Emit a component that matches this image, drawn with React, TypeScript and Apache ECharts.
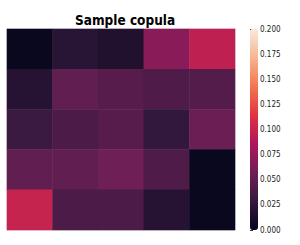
import React, { useEffect, useRef } from "react";
import * as echarts from "echarts";

const title = "Sample copula";
const columns = ["0", "1", "2", "3", "4"];
const rows = ["0", "1", "2", "3", "4"];
const row0 = [0.004, 0.021, 0.017, 0.069, 0.095];
const row1 = [0.020, 0.050, 0.045, 0.041, 0.043];
const row2 = [0.031, 0.040, 0.045, 0.027, 0.054];
const row3 = [0.050, 0.050, 0.056, 0.041, 0.004];
const row4 = [0.099, 0.040, 0.040, 0.020, 0.004];
const matrix = [row0, row1, row2, row3, row4];
const colorMin = 0;
const colorMax = 0.2;
const colorTickStep = 0.025;
const rocket = ["#03051a", "#35193e", "#701f57", "#ad1759", "#e13342", "#f37651", "#f6b48f", "#faebdd"];

export default function App() {
  const ref = useRef<HTMLDivElement>(null);
  useEffect(() => {
    if (!ref.current) return;
    const chart = echarts.init(ref.current, null, { renderer: "svg" });
    const data: [number, number, number][] = [];
    matrix.forEach((r, ri) => r.forEach((v, ci) => data.push([ci, ri, v])));
    const font = "'DejaVu Sans Condensed', 'DejaVu Sans', sans-serif";
    chart.setOption({
      animation: false,
      backgroundColor: "#ffffff",
      title: {
        text: title,
        left: 70,
        top: 8,
        textStyle: { fontFamily: font, fontWeight: "bold", fontSize: 13.5, color: "#000" },
      },
      grid: [
        { left: 7, top: 29, width: 228, height: 201, show: true, borderColor: "#d8d0d8", borderWidth: 1, backgroundColor: "transparent" },
        { left: 250, top: 29, width: 8, height: 201 },
      ],
      xAxis: [
        { type: "category", gridIndex: 0, data: columns, show: false },
        { type: "value", gridIndex: 1, show: false, min: 0, max: 1 },
      ],
      yAxis: [
        { type: "category", gridIndex: 0, data: rows, inverse: true, show: false },
        {
          type: "value",
          gridIndex: 1,
          position: "right",
          min: colorMin,
          max: colorMax,
          interval: colorTickStep,
          axisLine: { show: false },
          splitLine: { show: false },
          axisTick: { show: true, length: 3, lineStyle: { color: "#333", width: 1 } },
          axisLabel: {
            margin: 2,
            fontFamily: font,
            fontSize: 8,
            color: "#222",
            formatter: (v: number) => v.toFixed(3),
          },
        },
      ],
      visualMap: {
        type: "continuous",
        min: colorMin,
        max: colorMax,
        seriesIndex: 0,
        calculable: false,
        orient: "vertical",
        left: 250,
        top: 29,
        itemWidth: 8,
        itemHeight: 201,
        padding: 0,
        text: ["", ""],
        showLabel: false,
        inRange: { color: rocket },
      },
      series: [
        {
          type: "heatmap",
          xAxisIndex: 0,
          yAxisIndex: 0,
          data,
          itemStyle: { borderWidth: 0 },
          emphasis: { disabled: true },
        },
      ],
    });
    return () => chart.dispose();
  }, []);
  return <div ref={ref} style={{ position: "fixed", left: 0, top: 0, width: 300, height: 245 }} />;
}
